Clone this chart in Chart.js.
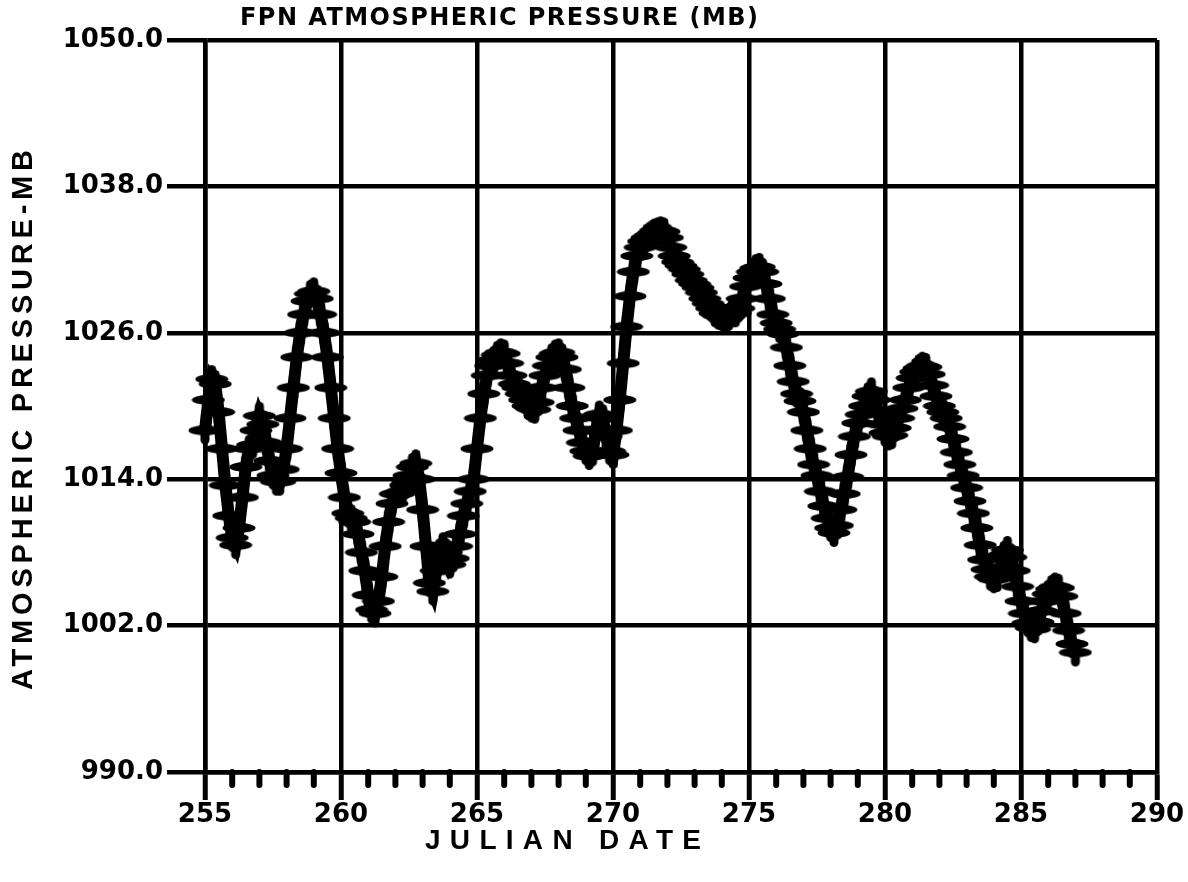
<!DOCTYPE html>
<html><head><meta charset="utf-8">
<script src="https://cdn.jsdelivr.net/npm/chart.js@4.4.1/dist/chart.umd.min.js"></script>
<style>html,body{margin:0;padding:0;background:#fff}#wrap{width:1188px;height:882px}</style>
</head><body><div id="wrap"><canvas id="c" width="1188" height="882"></canvas></div>
<script>
const chartTitle = 'FPN ATMOSPHERIC PRESSURE (MB)';
const xTitle = 'JULIAN DATE';
const yTitle = 'ATMOSPHERIC PRESSURE-MB';
const startDay = 255;
const stepDays = 0.125; // 3-hourly samples
const pressure = [
  1018.0, 1020.5, 1022.2, 1021.8, 1019.5, 1016.5, 1013.5, 1011.0, // 255
  1009.2, 1008.6, 1010.0, 1012.5, 1015.0, 1016.5, 1016.8, 1018.0, // 256
  1019.2, 1018.5, 1017.0, 1015.5, 1014.3, 1013.8, 1013.8, 1014.8, // 257
  1016.5, 1019.0, 1021.5, 1024.0, 1026.0, 1027.5, 1028.6, 1029.2, // 258
  1029.4, 1028.8, 1027.5, 1026.0, 1024.0, 1021.5, 1019.0, 1016.5, // 259
  1014.5, 1012.5, 1011.2, 1010.8, 1010.5, 1009.5, 1008.0, 1006.5, // 260
  1004.5, 1003.3, 1003.0, 1004.0, 1006.0, 1008.5, 1010.5, 1012.0, // 261
  1012.8, 1012.8, 1013.0, 1013.5, 1014.3, 1015.0, 1015.3, 1014.0, // 262
  1011.5, 1008.5, 1005.5, 1004.8, 1006.5, 1008.0, 1008.5, 1008.0, // 263
  1007.0, 1007.5, 1008.5, 1009.5, 1011.0, 1012.0, 1013.0, 1014.0, // 264
  1016.5, 1019.0, 1021.0, 1022.5, 1023.3, 1023.8, 1024.2, 1024.4, // 265
  1024.3, 1023.5, 1022.5, 1021.8, 1021.5, 1021.0, 1020.5, 1020.0, // 266
  1019.8, 1019.7, 1020.3, 1021.5, 1022.5, 1023.3, 1024.0, 1024.3, // 267
  1024.4, 1024.0, 1023.0, 1021.5, 1020.0, 1019.0, 1018.0, 1017.0, // 268
  1016.3, 1015.9, 1016.2, 1018.0, 1019.3, 1019.0, 1017.5, 1016.3, // 269
  1016.0, 1018.0, 1020.5, 1023.5, 1026.5, 1029.0, 1031.0, 1032.3, // 270
  1033.0, 1033.5, 1033.8, 1034.0, 1034.2, 1034.3, 1034.4, 1034.3, // 271
  1033.8, 1033.0, 1032.3, 1031.8, 1031.5, 1031.2, 1030.8, 1030.3, // 272
  1030.0, 1029.7, 1029.3, 1028.8, 1028.4, 1028.0, 1027.6, 1027.4, // 273
  1027.3, 1027.2, 1027.3, 1027.6, 1027.6, 1028.0, 1028.8, 1029.8, // 274
  1030.5, 1031.0, 1031.3, 1031.4, 1031.0, 1030.0, 1028.8, 1027.5, // 275
  1026.8, 1026.3, 1025.9, 1024.8, 1023.3, 1022.0, 1021.0, 1020.4, // 276
  1019.5, 1018.0, 1016.5, 1015.2, 1014.3, 1013.0, 1011.8, 1010.8, // 277
  1010.0, 1009.6, 1010.2, 1011.5, 1012.8, 1014.2, 1016.0, 1017.5, // 278
  1018.6, 1019.3, 1020.0, 1020.8, 1021.2, 1020.5, 1019.5, 1018.5, // 279
  1017.8, 1017.5, 1017.6, 1018.2, 1019.0, 1019.8, 1020.5, 1021.5, // 280
  1022.3, 1022.8, 1023.1, 1023.3, 1023.2, 1022.6, 1021.7, 1020.8, // 281
  1020.0, 1019.5, 1019.0, 1018.3, 1017.3, 1016.2, 1015.2, 1014.3, // 282
  1013.3, 1012.2, 1011.2, 1010.0, 1008.6, 1007.4, 1006.6, 1006.0, // 283
  1005.8, 1005.9, 1006.7, 1007.8, 1008.2, 1007.6, 1006.5, 1005.2, // 284
  1004.0, 1003.0, 1002.2, 1001.8, 1001.7, 1002.3, 1003.2, 1004.0, // 285
  1004.6, 1005.0, 1005.2, 1005.1, 1004.4, 1003.0, 1001.6, 1000.5, // 286
  999.8                                                           // 287
];
const xTickValues = [255, 260, 265, 270, 275, 280, 285, 290];
const minorTickDays = [256,257,258,259,261,262,263,264,266,267,268,269,271,272,273,274,276,277,278,279,281,282,283,284,286,287,288,289];
const yTickValues = [990, 1002, 1014, 1026, 1038, 1050];

// "+" marker with wide horizontal bar (pen-plotter style)
function makeCross() {
  const c = document.createElement('canvas');
  c.width = 34; c.height = 30;
  const g = c.getContext('2d');
  g.fillStyle = '#000';
  g.beginPath(); g.ellipse(17, 15, 16.5, 5, 0, 0, Math.PI * 2); g.fill();
  g.beginPath(); g.roundRect(12.5, 1, 9, 28, 4.5); g.fill();
  return c;
}
const crossImg = makeCross();

function fitText(ctx, text, font, targetW) {
  ctx.font = font;
  if ('letterSpacing' in ctx) {
    ctx.letterSpacing = '0px';
    const w = ctx.measureText(text).width;
    const ls = Math.max(0, (targetW - w) / (text.length - 1));
    ctx.letterSpacing = ls + 'px';
  }
}

const decorPlugin = {
  id: 'decor',
  afterDraw(chart) {
    const ctx = chart.ctx;
    const xs = chart.scales.x;
    const bottom = chart.chartArea.bottom;
    ctx.save();
    ctx.strokeStyle = '#000';
    ctx.lineWidth = 6;
    ctx.lineCap = 'round';
    minorTickDays.forEach(d => {
      const px = xs.getPixelForValue(d);
      ctx.beginPath(); ctx.moveTo(px, bottom); ctx.lineTo(px, bottom + 13); ctx.stroke();
    });
    ctx.restore();

    ctx.save();
    ctx.fillStyle = '#000';
    ctx.textBaseline = 'middle';
    ctx.textAlign = 'left';
    fitText(ctx, chartTitle, 'bold 24px "DejaVu Sans"', 518);
    ctx.fillText(chartTitle, 240, 19);
    fitText(ctx, xTitle, 'bold 28px "Liberation Sans"', 276);
    ctx.fillText(xTitle, 425, 841);
    ctx.translate(24, 690);
    ctx.rotate(-Math.PI / 2);
    fitText(ctx, yTitle, 'bold 29px "Liberation Sans"', 540);
    ctx.fillText(yTitle, 0, 0);
    ctx.restore();
  }
};

const tickFont = { family: 'DejaVu Sans', weight: 'bold', size: 26 };

new Chart(document.getElementById('c'), {
  type: 'line',
  data: {
    datasets: [{
      data: pressure.map((p, i) => ({ x: startDay + i * stepDays, y: p })),
      borderColor: '#000',
      backgroundColor: '#000',
      borderWidth: 12,
      pointStyle: crossImg,
      pointRadius: 15,
      pointHoverRadius: 15,
      tension: 0,
      fill: false,
      clip: false
    }]
  },
  options: {
    responsive: false,
    animation: false,
    devicePixelRatio: 1,
    layout: { padding: { top: 40, right: 31, left: 0, bottom: 0 } },
    plugins: { legend: { display: false }, tooltip: { enabled: false }, title: { display: false } },
    scales: {
      x: {
        type: 'linear',
        min: 255, max: 290,
        afterBuildTicks: s => { s.ticks = xTickValues.map(v => ({ value: v })); },
        afterFit: s => { s.height = 110; },
        ticks: { color: '#000', font: tickFont, padding: 0, maxRotation: 0, autoSkip: false, callback: v => String(v) },
        grid: { color: '#000', lineWidth: 4.5, tickLength: 28, tickWidth: 5, tickColor: '#000' },
        border: { color: '#000', width: 4.5 }
      },
      y: {
        type: 'linear',
        min: 990, max: 1050,
        afterBuildTicks: s => { s.ticks = yTickValues.map(v => ({ value: v })); },
        afterFit: s => { s.width = 205; },
        ticks: { color: '#000', font: tickFont, padding: 4, autoSkip: false, callback: v => Number(v).toFixed(1) },
        grid: { color: '#000', lineWidth: 4.5, tickLength: 38, tickWidth: 4.5, tickColor: '#000' },
        border: { color: '#000', width: 4.5 }
      }
    }
  },
  plugins: [decorPlugin]
});
</script>
</body></html>
